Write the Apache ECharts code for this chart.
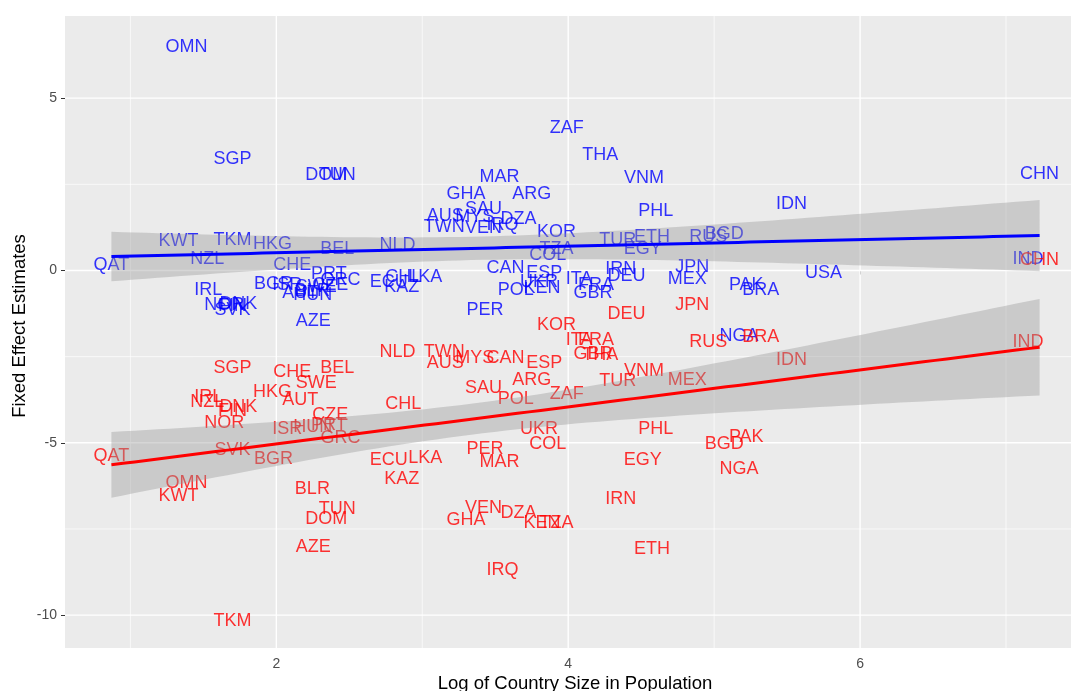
<!DOCTYPE html>
<html>
<head>
<meta charset="utf-8">
<title>Fixed effect estimates</title>
<script src="https://cdn.jsdelivr.net/npm/echarts@6/dist/echarts.min.js"></script>
<style>
  html, body { margin: 0; padding: 0; background: #fff; overflow: hidden; }
  /* the plot panel runs past the right edge of the window, as in the original */
  #chart { width: 1086px; height: 691px; }
</style>
</head>
<body>
<div id="chart"></div>
<script>
// country codes, log of population, and the two fixed effect estimates
const countries = ['OMN', 'KWT', 'QAT', 'SGP', 'TKM', 'NZL', 'IRL', 'DNK', 'FIN', 'NOR', 'SVK', 'HKG', 'CHE', 'BEL', 'SWE', 'AUT', 'BGR', 'ISR', 'HUN', 'CZE', 'PRT', 'GRC', 'BLR', 'TUN', 'DOM', 'AZE', 'NLD', 'TWN', 'AUS', 'MYS', 'CAN', 'ESP', 'SAU', 'ARG', 'POL', 'ZAF', 'CHL', 'UKR', 'COL', 'PER', 'MAR', 'ECU', 'LKA', 'KAZ', 'VEN', 'DZA', 'GHA', 'KEN', 'TZA', 'IRQ', 'KOR', 'ITA', 'FRA', 'GBR', 'THA', 'DEU', 'JPN', 'RUS', 'NGA', 'BRA', 'BGD', 'PAK', 'IDN', 'VNM', 'TUR', 'MEX', 'PHL', 'EGY', 'IRN', 'ETH', 'USA', 'CHN', 'IND'];
const logPop = [1.384, 1.33, 0.87, 1.699, 1.70, 1.527, 1.534, 1.74, 1.70, 1.644, 1.70, 1.973, 2.11, 2.418, 2.274, 2.164, 1.98, 2.075, 2.25, 2.37, 2.36, 2.44, 2.247, 2.418, 2.342, 2.253, 2.83, 3.15, 3.157, 3.36, 3.57, 3.836, 3.42, 3.75, 3.64, 3.99, 2.87, 3.80, 3.86, 3.43, 3.53, 2.77, 3.02, 2.86, 3.42, 3.66, 3.30, 3.82, 3.92, 3.55, 3.92, 4.075, 4.19, 4.17, 4.22, 4.40, 4.85, 4.96, 5.17, 5.32, 5.07, 5.22, 5.53, 4.52, 4.34, 4.815, 4.60, 4.51, 4.36, 4.575, 5.75, 7.23, 7.15];
const blueEstimates = [6.55, 0.92, 0.23, 3.30, 0.95, 0.40, -0.50, -0.91, -0.98, -0.93, -1.08, 0.83, 0.23, 0.69, -0.41, -0.61, -0.33, -0.35, -0.65, -0.35, -0.04, -0.22, -0.53, 2.83, 2.83, -1.40, 0.81, 1.33, 1.65, 1.62, 0.12, -0.03, 1.85, 2.28, -0.50, 4.20, -0.12, -0.27, 0.52, -1.08, 2.78, -0.27, -0.12, -0.41, 1.30, 1.56, 2.28, -0.44, 0.69, 1.38, 1.18, -0.18, -0.35, -0.61, 3.41, -0.09, 0.17, 1.04, -1.83, -0.50, 1.12, -0.35, 2.00, 2.75, 0.95, -0.18, 1.79, 0.69, 0.11, 1.04, -0.03, 2.86, 0.40];
const redEstimates = [-6.12, -6.50, -5.34, -2.76, -10.12, -3.77, -3.60, -3.89, -4.03, -4.38, -5.14, -3.46, -2.88, -2.78, -3.22, -3.69, -5.41, -4.53, -4.47, -4.13, -4.43, -4.79, -6.28, -6.86, -7.15, -7.98, -2.32, -2.30, -2.64, -2.49, -2.48, -2.64, -3.36, -3.12, -3.66, -3.52, -3.81, -4.53, -4.97, -5.11, -5.51, -5.43, -5.37, -5.98, -6.82, -6.99, -7.17, -7.28, -7.28, -8.64, -1.52, -1.95, -1.95, -2.37, -2.39, -1.22, -0.93, -2.03, -5.69, -1.86, -4.99, -4.76, -2.54, -2.86, -3.15, -3.12, -4.53, -5.43, -6.56, -8.03, null, 0.37, -2.03];

const xTicks = [2, 4, 6];
const xMinorGrid = [1, 3, 5, 7];
const yTicks = [-10, -5, 0, 5];
const yMinorGrid = [-7.5, -2.5, 2.5];

// ggplot-like limits: data range expanded by 5% each side
function expand(values) {
	const v = values.filter(d => d !== null);
	const lo = Math.min(...v), hi = Math.max(...v);
	const pad = (hi - lo) * 0.05;
	return [lo - pad, hi + pad];
}
const xLim = expand(logPop);
const yLim = expand(blueEstimates.concat(redEstimates));

// linear fit with 95% confidence band (like geom_smooth(method = 'lm'))
function lmBand(xs, ys) {
	const pts = xs.map((x, i) => [x, ys[i]]).filter(p => p[1] !== null);
	const n = pts.length;
	const xbar = pts.reduce((s, p) => s + p[0], 0) / n;
	const ybar = pts.reduce((s, p) => s + p[1], 0) / n;
	let sxx = 0, sxy = 0;
	pts.forEach(p => { sxx += (p[0] - xbar) ** 2; sxy += (p[0] - xbar) * (p[1] - ybar); });
	const b = sxy / sxx, a = ybar - b * xbar;
	let rss = 0;
	pts.forEach(p => { rss += (p[1] - a - b * p[0]) ** 2; });
	const s = Math.sqrt(rss / (n - 2));
	const t = 1.994;
	const x0 = Math.min(...pts.map(p => p[0])), x1 = Math.max(...pts.map(p => p[0]));
	const fit = [], lower = [], upper = [];
	for (let i = 0; i <= 80; i++) {
		const x = x0 + (x1 - x0) * i / 80;
		const y = a + b * x;
		const se = s * Math.sqrt(1 / n + (x - xbar) ** 2 / sxx);
		fit.push([x, y]);
		lower.push([x, y - t * se]);
		upper.push([x, y + t * se]);
	}
	return { fit, lower, upper };
}

function labelData(ys) {
	const out = [];
	countries.forEach((c, i) => {
		if (ys[i] !== null) out.push({ name: c, value: [logPop[i], ys[i]] });
	});
	return out;
}

function textSeries(ys, color) {
	return {
		type: 'scatter',
		data: labelData(ys),
		symbol: 'circle',
		symbolSize: 1,
		itemStyle: { color: 'rgba(0,0,0,0)' },
		silent: true,
		z: 2,
		label: {
			show: true,
			position: 'inside',
			offset: [0, 2],
			formatter: '{b}',
			color: color,
			fontSize: 18,
			fontFamily: 'Liberation Sans, Arial, sans-serif',
			align: 'center',
			verticalAlign: 'middle'
		}
	};
}

// confidence band as one polygon
function bandSeries(band) {
	return {
		type: 'custom',
		silent: true,
		z: 3,
		data: [band.fit[0]],
		renderItem: function (params, api) {
			const ring = band.upper.concat(band.lower.slice().reverse());
			return {
				type: 'polygon',
				shape: { points: ring.map(p => api.coord(p)) },
				style: { fill: 'rgba(153,153,153,0.4)' }
			};
		}
	};
}

function gridLines(values, vertical, width) {
	return {
		type: 'custom',
		silent: true,
		z: 1,
		data: values.map(v => [v]),
		renderItem: function (params, api) {
			const v = api.value(0);
			const p1 = vertical ? api.coord([v, yLim[0]]) : api.coord([xLim[0], v]);
			const p2 = vertical ? api.coord([v, yLim[1]]) : api.coord([xLim[1], v]);
			return {
				type: 'line',
				shape: { x1: p1[0], y1: p1[1], x2: p2[0], y2: p2[1] },
				style: { stroke: '#ffffff', lineWidth: width }
			};
		},
		encode: vertical ? { x: 0 } : { y: 0 }
	};
}

const blueBand = lmBand(logPop, blueEstimates);
const redBand = lmBand(logPop, redEstimates);

const chart = echarts.init(document.getElementById('chart'));

const option = {
	animation: false,
	backgroundColor: '#ffffff',
	grid: {
		left: 65, right: 0, top: 16, bottom: 43,
		show: true, backgroundColor: '#EBEBEB', borderWidth: 0
	},
	xAxis: {
		type: 'value',
		min: xLim[0], max: xLim[1],
		axisLine: { show: false },
		splitLine: { show: false },
		axisTick: { show: true, length: 4, lineStyle: { color: '#333333' }, customValues: xTicks },
		axisLabel: { color: '#4D4D4D', fontSize: 14, margin: 9, fontFamily: 'Liberation Sans, Arial, sans-serif', customValues: xTicks }
	},
	yAxis: {
		type: 'value',
		min: yLim[0], max: yLim[1],
		axisLine: { show: false },
		splitLine: { show: false },
		axisTick: { show: true, length: 4, lineStyle: { color: '#333333' }, customValues: yTicks },
		axisLabel: { color: '#4D4D4D', fontSize: 14, margin: 8, fontFamily: 'Liberation Sans, Arial, sans-serif', customValues: yTicks }
	},
	graphic: [
		{
			type: 'text', x: 575, y: 684,
			style: {
				text: 'Log of Country Size in Population', fontSize: 18.5, fill: '#000',
				fontFamily: 'Liberation Sans, Arial, sans-serif', align: 'center', verticalAlign: 'middle'
			}
		},
		{
			type: 'text', x: 20, y: 326, rotation: Math.PI / 2,
			style: {
				text: 'Fixed Effect Estimates', fontSize: 18.5, fill: '#000',
				fontFamily: 'Liberation Sans, Arial, sans-serif', align: 'center', verticalAlign: 'middle'
			}
		}
	],
	series: [
		gridLines(xMinorGrid, true, 0.7),
		gridLines(yMinorGrid, false, 0.7),
		gridLines(xTicks, true, 1.4),
		gridLines(yTicks, false, 1.4),
		textSeries(blueEstimates, '#0000FF'),
		textSeries(redEstimates, '#FF0000'),
		bandSeries(blueBand),
		bandSeries(redBand),
		{
			type: 'line', data: blueBand.fit, symbol: 'none', silent: true, z: 4,
			lineStyle: { color: '#0000FF', width: 3 }
		},
		{
			type: 'line', data: redBand.fit, symbol: 'none', silent: true, z: 4,
			lineStyle: { color: '#FF0000', width: 3 }
		}
	]
};

chart.setOption(option);
</script>
</body>
</html>
